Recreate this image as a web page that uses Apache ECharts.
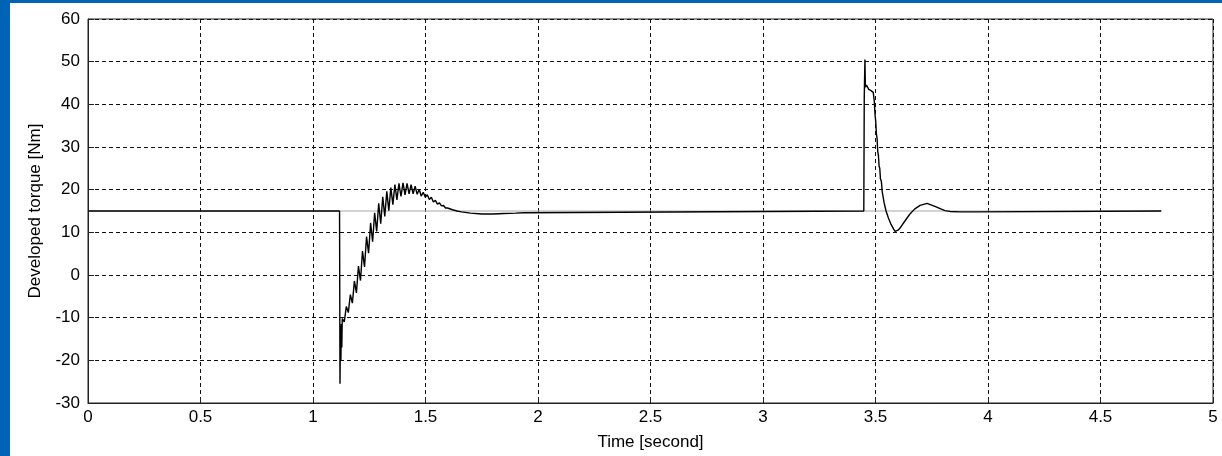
<!DOCTYPE html>
<html>
<head>
<meta charset="utf-8">
<script src="https://cdn.jsdelivr.net/npm/echarts@6/dist/echarts.min.js"></script>
<style>
  html, body { margin: 0; padding: 0; background: #fff; }
  #chart { width: 1222px; height: 456px; }
</style>
</head>
<body>
<div id="chart"></div>
<script>
// axis ticks
var xTicks = [0, 0.5, 1, 1.5, 2, 2.5, 3, 3.5, 4, 4.5, 5];
var yTicks = [-30, -20, -10, 0, 10, 20, 30, 40, 50, 60];

// load (reference) torque, grey
var loadTime = [0, 4.77];
var loadTorque = [15, 15];

// developed torque, black
var torqueTime = [
  0, 1.118, 1.120, 1.122, 1.124, 1.126, 1.128,
  1.130, 1.139, 1.148, 1.157, 1.166, 1.175, 1.184, 1.193, 1.202, 1.211,
  1.220, 1.229, 1.238, 1.247, 1.256, 1.265, 1.274, 1.283, 1.292, 1.301,
  1.310, 1.319, 1.328, 1.337, 1.346, 1.355, 1.364, 1.373, 1.382, 1.391,
  1.400, 1.409, 1.418, 1.427, 1.436, 1.445, 1.454, 1.463, 1.472, 1.481,
  1.490, 1.499, 1.508, 1.517, 1.526, 1.535, 1.544, 1.553, 1.562, 1.571,
  1.580, 1.589, 1.598, 1.62, 1.64, 1.66, 1.70, 1.75, 1.80, 1.85, 1.90, 1.938, 1.942,
  3.448, 3.450, 3.452, 3.453, 3.455, 3.46, 3.47, 3.48, 3.49,
  3.495, 3.498, 3.501, 3.504, 3.507, 3.510, 3.513, 3.516, 3.519, 3.522,
  3.526, 3.530, 3.534, 3.538, 3.542, 3.547, 3.552, 3.557, 3.562, 3.568,
  3.574, 3.580, 3.587, 3.600, 3.609, 3.630, 3.653, 3.675, 3.698, 3.729,
  3.764, 3.790, 3.809, 3.831, 3.876, 3.945, 3.950, 4.77
];
var torqueValue = [
  15, 15, -25.5, -12, -20, -11.5, -17,
  -10.2, -11.0, -7.4, -8.8, -4.6, -6.6, -1.4, -4.2, 2.1, -1.3,
  5.6, 1.9, 9.0, 5.1, 12.2, 7.8, 14.6, 10.2, 16.8, 12.0,
  18.3, 13.7, 19.6, 15.1, 20.5, 16.5, 21.2, 17.6, 21.5, 18.4,
  21.6, 18.8, 21.5, 19.0, 21.2, 19.0, 20.8, 18.9, 20.1, 18.5,
  19.4, 18.2, 18.8, 17.7, 18.2, 17.1, 17.5, 16.6, 16.9, 16.2,
  16.3, 15.7, 15.7, 15.3, 15.0, 14.8, 14.5, 14.3, 14.3, 14.4, 14.5, 14.6, 15,
  15, 41.5, 41.5, 50.5, 44, 44.5, 43.5, 43.2, 42.8,
  40.5, 37.5, 36, 33, 32, 29, 28, 25.5, 25, 22.5,
  22, 19.5, 19.2, 17, 16.8, 15, 14.6, 13.4, 13.2, 12,
  11.7, 10.8, 10.2, 10.5, 11, 12.6, 14.3, 15.5, 16.3, 16.8,
  16.1, 15.5, 15.1, 14.9, 14.8, 14.8, 15, 15
];

function zip(a, b) {
  var out = [];
  for (var i = 0; i < a.length; i++) out.push([a[i], b[i]]);
  return out;
}

var font = 'Liberation Sans, Arial, sans-serif';
var chart = echarts.init(document.getElementById('chart'));

var option = {
  animation: false,
  backgroundColor: '#fff',
  graphic: [
    { type: 'rect', left: 0, top: 0, shape: { width: 10, height: 456 }, style: { fill: '#0064b4' } },
    { type: 'rect', left: 0, top: 0, shape: { width: 1222, height: 3 }, style: { fill: '#0064b4' } }
  ],
  grid: {
    left: 88, right: 9, top: 19, bottom: 51,
    show: true, borderColor: '#222', borderWidth: 1, backgroundColor: '#fff'
  },
  xAxis: {
    type: 'value',
    min: xTicks[0], max: xTicks[xTicks.length - 1], interval: 0.5,
    name: 'Time [second]', nameLocation: 'middle', nameGap: 31,
    nameTextStyle: { fontFamily: font, fontSize: 17, color: '#000' },
    axisLine: { onZero: false, lineStyle: { color: '#222', width: 1 } },
    axisTick: { inside: true, length: 6, lineStyle: { color: '#222' } },
    axisLabel: { fontFamily: font, fontSize: 17, color: '#000', margin: 6 },
    splitLine: { show: true, lineStyle: { color: '#111', type: [4, 3], width: 1 } }
  },
  yAxis: {
    type: 'value',
    min: yTicks[0], max: yTicks[yTicks.length - 1], interval: 10,
    name: 'Developed torque [Nm]', nameLocation: 'middle', nameGap: 44,
    nameTextStyle: { fontFamily: font, fontSize: 17, color: '#000' },
    axisLine: { show: true, onZero: false, lineStyle: { color: '#222', width: 1 } },
    axisTick: { show: true, inside: true, length: 6, lineStyle: { color: '#222' } },
    axisLabel: { fontFamily: font, fontSize: 17, color: '#000', margin: 8 },
    splitLine: { show: true, lineStyle: { color: '#111', type: [4, 3], width: 1 } }
  },
  series: [
    {
      type: 'line', data: zip(loadTime, loadTorque), showSymbol: false,
      lineStyle: { color: '#a8a8a8', width: 1.2 }, z: 2
    },
    {
      type: 'line', data: zip(torqueTime, torqueValue), showSymbol: false,
      sampling: 'none',
      lineStyle: { color: '#000', width: 1.4 }, z: 3
    }
  ]
};

option && chart.setOption(option);
</script>
</body>
</html>
